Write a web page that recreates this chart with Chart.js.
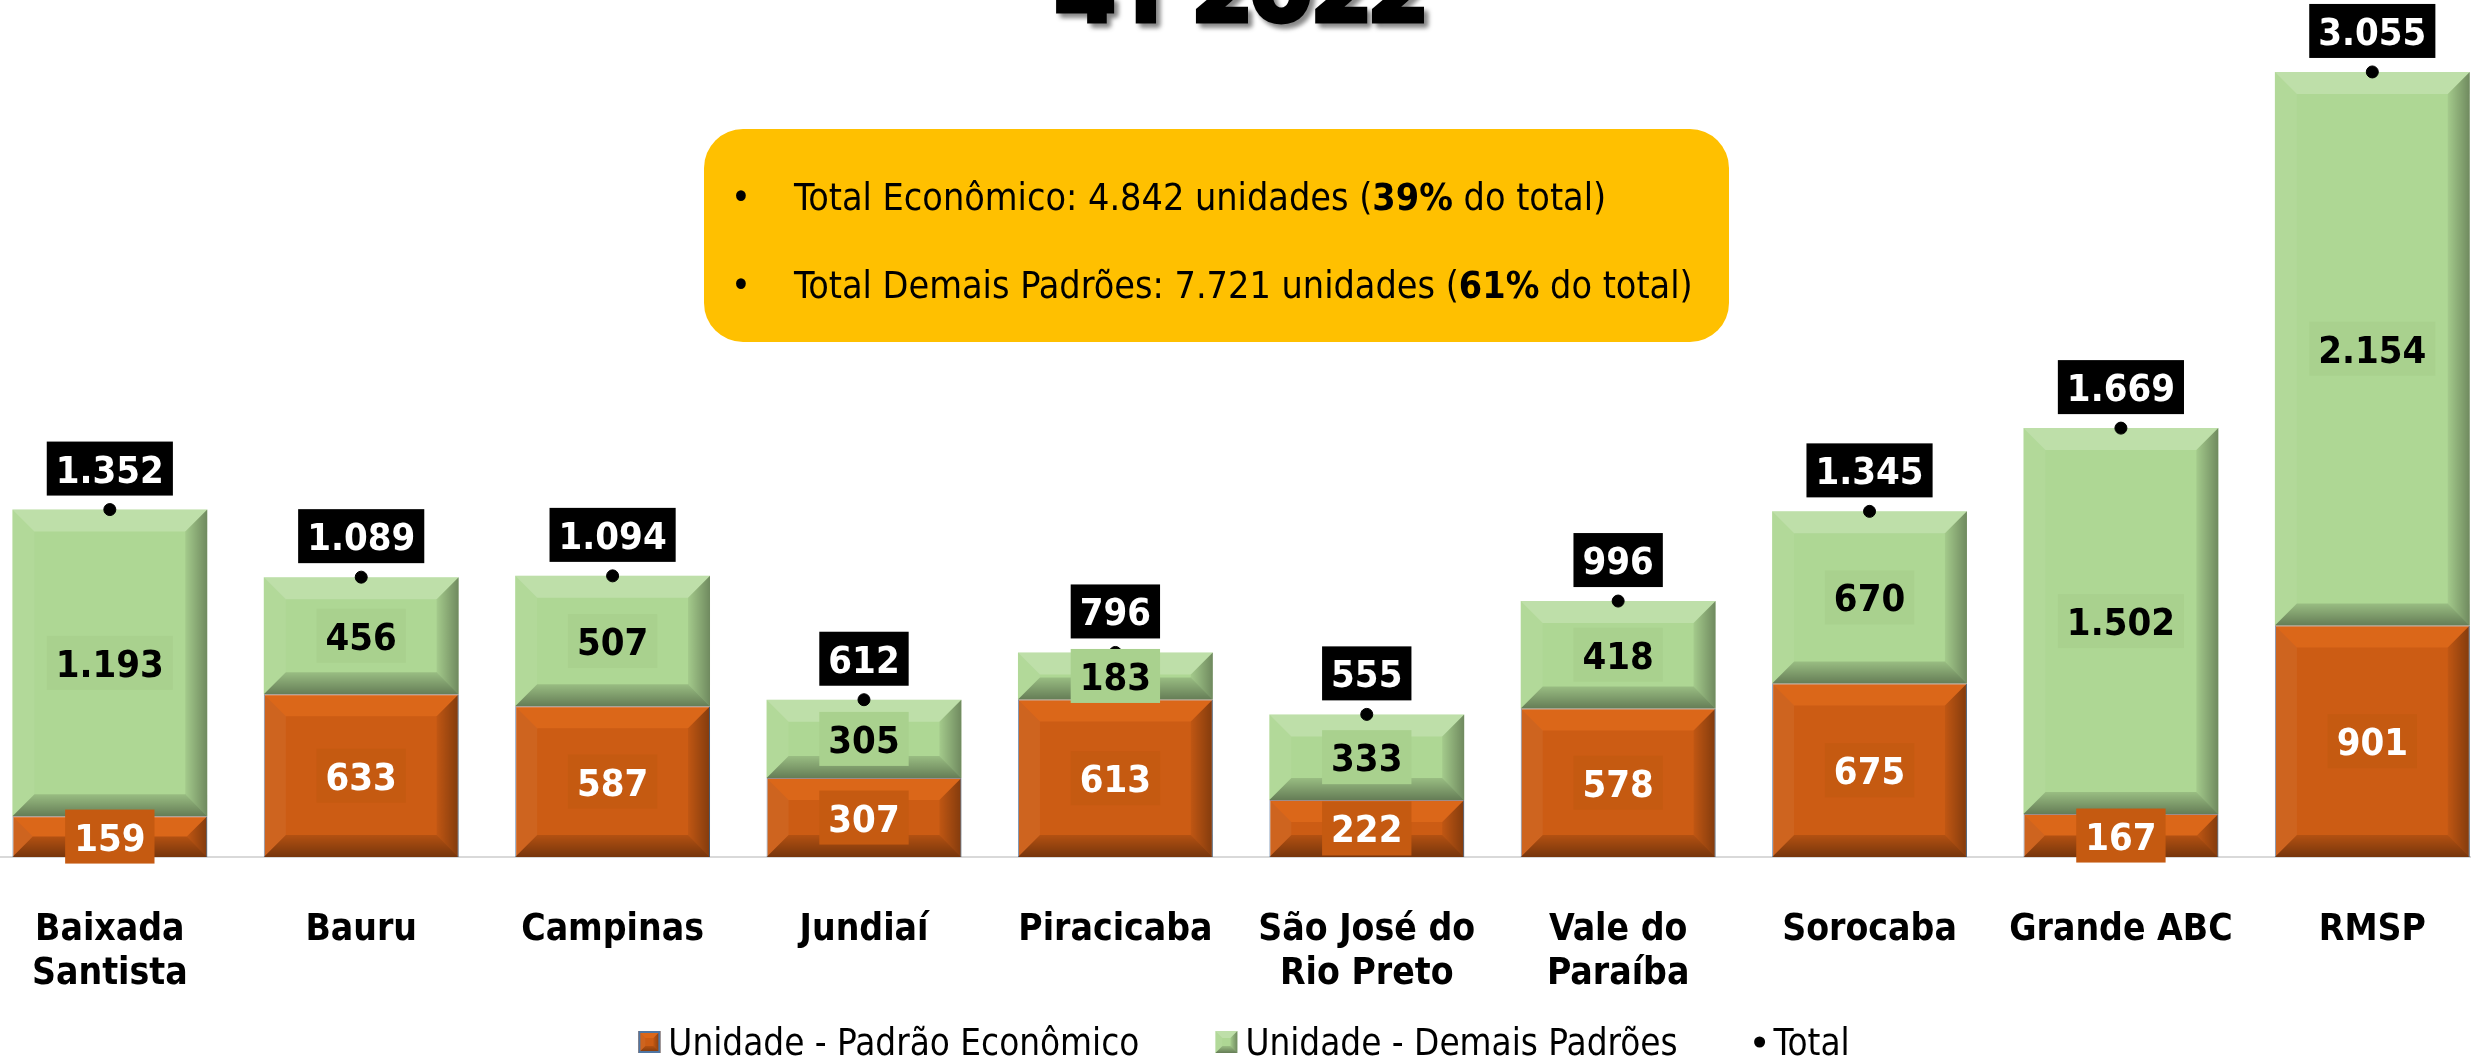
<!DOCTYPE html>
<html>
<head>
<meta charset="utf-8">
<script src="https://cdn.jsdelivr.net/npm/chart.js@4.4.1/dist/chart.umd.min.js"></script>
<style>
  html, body { margin: 0; padding: 0; background: #fff; overflow: hidden; }
  #wrap { position: absolute; left: -19px; top: 0; width: 2517px; height: 1058px; }
</style>
</head>
<body>
<div id="wrap"><canvas id="grafico" width="2517" height="1058"></canvas></div>
<script>
// dados
const regioes = [['Baixada', 'Santista'], 'Bauru', 'Campinas', 'Jundiaí', 'Piracicaba',
  ['São José do', 'Rio Preto'], ['Vale do', 'Paraíba'], 'Sorocaba', 'Grande ABC', 'RMSP'];
const padraoEconomico = [159, 633, 587, 307, 613, 222, 578, 675, 167, 901];
const demaisPadroes = [1193, 456, 507, 305, 183, 333, 418, 670, 1502, 2154];
const totais = [1352, 1089, 1094, 612, 796, 555, 996, 1345, 1669, 3055];
const legendas = ['Unidade - Padrão Econômico', 'Unidade - Demais Padrões', 'Total'];
const resumo = [
  ['Total Econômico: 4.842 unidades (', '39%', ' do total)'],
  ['Total Demais Padrões: 7.721 unidades (', '61%', ' do total)']
];
const titulo = '4T 2022';
const yMax = 3335;

const FONTE = '"DejaVu Sans Condensed", "DejaVu Sans", sans-serif';

function fmt(v) {
  return String(v).replace(/\B(?=(\d{3})+(?!\d))/g, '.');
}

function desenhaBisel(ctx, l, t, r, b, tam, claro) {
  const s = Math.max(0, Math.min(tam, (r - l) / 2, (b - t) / 2));
  if (s <= 0) return;
  ctx.save();
  ctx.beginPath(); ctx.moveTo(l, t); ctx.lineTo(r, t); ctx.lineTo(r - s, t + s); ctx.lineTo(l + s, t + s); ctx.closePath();
  ctx.fillStyle = claro; ctx.fill();

  ctx.beginPath(); ctx.moveTo(l, t); ctx.lineTo(l + s, t + s); ctx.lineTo(l + s, b - s); ctx.lineTo(l, b); ctx.closePath();
  ctx.fillStyle = 'rgba(255,255,255,0.05)'; ctx.fill();

  let g = ctx.createLinearGradient(r - s, 0, r, 0);
  g.addColorStop(0, 'rgba(0,0,0,0.06)');
  g.addColorStop(1, 'rgba(0,0,0,0.36)');
  ctx.beginPath(); ctx.moveTo(r, t); ctx.lineTo(r, b); ctx.lineTo(r - s, b - s); ctx.lineTo(r - s, t + s); ctx.closePath();
  ctx.fillStyle = g; ctx.fill();

  g = ctx.createLinearGradient(0, b - s, 0, b);
  g.addColorStop(0, 'rgba(0,0,0,0.12)');
  g.addColorStop(1, 'rgba(0,0,0,0.42)');
  ctx.beginPath(); ctx.moveTo(l, b); ctx.lineTo(r, b); ctx.lineTo(r - s, b - s); ctx.lineTo(l + s, b - s); ctx.closePath();
  ctx.fillStyle = g; ctx.fill();
  ctx.restore();
}

const corEcon = '#CC5C14';
const corDemais = '#AED794';
const claros = ['rgba(255,130,40,0.3)', 'rgba(255,255,255,0.2)'];

function etiqueta(ctx, texto, cx, cy, fundo, cor) {
  ctx.font = 'bold 38px ' + FONTE;
  const w = ctx.measureText(texto).width + 18;
  const h = 54;
  ctx.fillStyle = fundo;
  ctx.fillRect(cx - w / 2, cy - h / 2, w, h);
  ctx.fillStyle = cor;
  ctx.textAlign = 'center';
  ctx.textBaseline = 'alphabetic';
  ctx.fillText(texto, cx, cy + 14);
}

const biselPlugin = {
  id: 'bisel',
  afterDatasetDraw(chart, args) {
    const meta = args.meta;
    if (meta.type !== 'bar') return;
    const ctx = chart.ctx;
    meta.data.forEach(bar => {
      const l = bar.x - bar.width / 2, r = bar.x + bar.width / 2;
      const t = Math.min(bar.y, bar.base), b = Math.max(bar.y, bar.base);
      desenhaBisel(ctx, l, t, r, b, 22, claros[meta.index]);
    });
  }
};

const rotulosPlugin = {
  id: 'rotulos',
  afterDatasetsDraw(chart) {
    const ctx = chart.ctx;
    ctx.save();
    const fundos = ['#C55A11', '#A9D18E'];
    const cores = ['#fff', '#000'];
    [0, 1].forEach(di => {
      const dados = chart.data.datasets[di].data;
      chart.getDatasetMeta(di).data.forEach((bar, i) => {
        etiqueta(ctx, fmt(dados[i]), bar.x, (bar.y + bar.base) / 2, fundos[di], cores[di]);
      });
    });
    chart.getDatasetMeta(2).data.forEach((pt, i) => {
      etiqueta(ctx, fmt(totais[i]), pt.x, pt.y - 41, '#000', '#fff');
    });
    ctx.restore();
  }
};

// legenda desenhada à mão para controlar espaçamento
const legendaPlugin = {
  id: 'legendaManual',
  afterDraw(chart) {
    const ctx = chart.ctx;
    ctx.save();
    ctx.font = '36.5px ' + FONTE;
    const base = 1055, meio = 1042;
    const marcas = [22, 22, 12];
    const larg = chart.data.datasets.map((ds, i) => marcas[i] + 8 + ctx.measureText(ds.label).width);
    const gap = 76;
    let x = 1263 - (larg.reduce((a, b) => a + b, 0) + gap * 2) / 2;
    chart.data.datasets.forEach((ds, i) => {
      if (i < 2) {
        ctx.fillStyle = ds.backgroundColor;
        ctx.fillRect(x, meio - 11, 22, 22);
        desenhaBisel(ctx, x, meio - 11, x + 22, meio + 11, 7, claros[i]);
        if (i === 0) {
          ctx.strokeStyle = '#4F76A3'; ctx.lineWidth = 2;
          ctx.strokeRect(x + 1, meio - 10, 20, 20);
        }
      } else {
        ctx.fillStyle = '#000';
        ctx.beginPath(); ctx.arc(x + 6, meio, 5.5, 0, Math.PI * 2); ctx.fill();
      }
      ctx.fillStyle = '#000';
      ctx.textAlign = 'left';
      ctx.textBaseline = 'alphabetic';
      ctx.fillText(ds.label, x + marcas[i] + 8, base);
      x += larg[i] + gap;
    });
    ctx.restore();
  }
};

const decoracaoPlugin = {
  id: 'decoracao',
  afterDraw(chart) {
    const ctx = chart.ctx;
    ctx.save();
    // titulo (cortado no topo)
    ctx.font = '900 100px Inter, "DejaVu Sans", sans-serif';
    const tam = 100 * 372 / ctx.measureText(titulo).width;
    ctx.font = '900 ' + tam + 'px Inter, "DejaVu Sans", sans-serif';
    ctx.shadowColor = 'rgba(0,0,0,0.45)';
    ctx.shadowBlur = 5;
    ctx.shadowOffsetX = 4;
    ctx.shadowOffsetY = 4;
    ctx.fillStyle = '#000';
    ctx.strokeStyle = '#000';
    ctx.lineWidth = 3;
    ctx.textAlign = 'center';
    ctx.textBaseline = 'alphabetic';
    ctx.strokeText(titulo, 1259, 22);
    ctx.fillText(titulo, 1259, 22);
    ctx.restore();

    // caixa amarela
    ctx.save();
    const x0 = 723, y0 = 129, x1 = 1748, y1 = 342, rad = 39;
    ctx.fillStyle = '#FFC000';
    ctx.beginPath();
    ctx.roundRect(x0, y0, x1 - x0, y1 - y0, rad);
    ctx.fill();
    ctx.fillStyle = '#000';
    ctx.textBaseline = 'alphabetic';
    const linhasY = [210, 298];
    resumo.forEach((partes, k) => {
      const y = linhasY[k];
      ctx.font = '37.4px ' + FONTE;
      ctx.textAlign = 'center';
      ctx.fillText('•', 760, y);
      ctx.textAlign = 'left';
      let x = 813;
      partes.forEach((p, j) => {
        ctx.font = (j === 1 ? 'bold ' : '') + '37.4px ' + FONTE;
        ctx.fillText(p, x, y);
        x += ctx.measureText(p).width;
      });
    });
    ctx.restore();
  }
};

new Chart(document.getElementById('grafico'), {
  data: {
    labels: regioes,
    datasets: [
      {
        type: 'bar',
        label: legendas[0],
        data: padraoEconomico,
        backgroundColor: corEcon,
        borderColor: 'rgba(79,118,163,0.8)',
        borderWidth: 1,
        stack: 'unidades',
        order: 1
      },
      {
        type: 'bar',
        label: legendas[1],
        data: demaisPadroes,
        backgroundColor: corDemais,
        borderWidth: 0,
        stack: 'unidades',
        order: 1
      },
      {
        type: 'line',
        label: legendas[2],
        data: totais,
        showLine: false,
        pointRadius: 6,
        pointHoverRadius: 6,
        pointBackgroundColor: '#000',
        pointBorderColor: '#000',
        backgroundColor: '#000',
        borderColor: '#000',
        stack: 'total',
        order: 0
      }
    ]
  },
  options: {
    responsive: false,
    animation: false,
    events: [],
    layout: { padding: 0, autoPadding: false },
    datasets: {
      bar: { barPercentage: 0.775, categoryPercentage: 1 }
    },
    scales: {
      x: {
        stacked: true,
        grid: { display: false, drawTicks: false },
        border: { display: true, color: '#D9D9D9', width: 2 },
        ticks: {
          color: '#000',
          padding: 51,
          maxRotation: 0,
          autoSkip: false,
          font: { family: FONTE, weight: 'bold', size: 37, lineHeight: 1.19 }
        },
        afterFit(scale) {
          scale.height = scale.chart.height - 857;
        }
      },
      y: {
        stacked: true,
        display: false,
        min: 0,
        max: yMax
      }
    },
    plugins: {
      tooltip: { enabled: false },
      legend: { display: false }
    }
  },
  plugins: [biselPlugin, rotulosPlugin, legendaPlugin, decoracaoPlugin]
});
</script>
</body>
</html>
